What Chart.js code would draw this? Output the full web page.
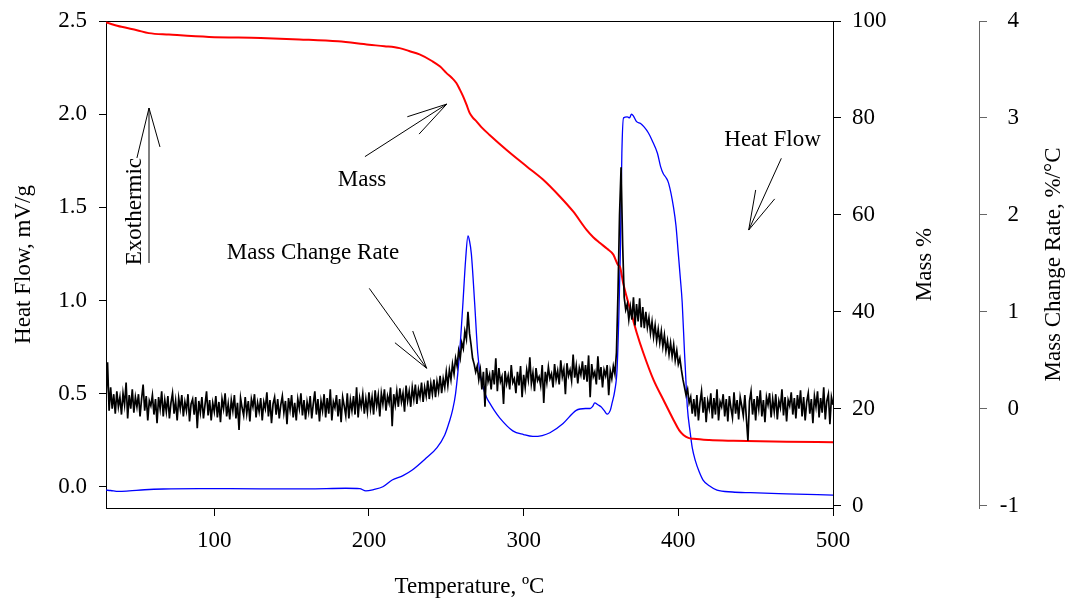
<!DOCTYPE html>
<html>
<head>
<meta charset="utf-8">
<script src="https://cdn.jsdelivr.net/npm/chart.js@4.4.1/dist/chart.umd.min.js"></script>
<style>
  html, body { margin: 0; padding: 0; background: #fff; }
  #wrap { width: 1068px; height: 601px; }
</style>
</head>
<body>
<div id="wrap"><canvas id="tgaChart" width="1068" height="601"></canvas></div>
<script>
// ===================================
// DATA
// ===================================

// Heat flow (blue, left axis, mV/g)
const hfTemps = [30, 33, 38, 45, 55, 67, 90, 130, 160, 185, 194, 198, 203, 209, 215, 222, 228, 237, 244, 249,
  252, 254, 256, 258.6, 260.6, 262.5, 264, 265, 266.2, 268.3, 270.3, 272, 273.6, 276, 278, 281, 284.5, 293, 300, 306,
  312, 317, 325.5, 334, 340, 343, 344.5, 346, 348, 350, 352, 354, 356, 357.2, 359, 360.4, 361.5, 362.5, 363.5, 364.6,
  367, 368.5, 369.7, 371, 373, 375.6, 378, 380.6, 383, 386.5, 388.5, 390.3, 392, 393.7, 396.9, 398.5, 400, 401.3, 402.5, 404,
  404.5, 405.8, 407.7, 409, 411, 413.5, 416, 420, 425, 435, 446.6, 470, 500];
const hfValues = [-0.018, -0.02, -0.025, -0.022, -0.016, -0.012, -0.010, -0.011, -0.011, -0.008, -0.010, -0.022, -0.015, 0.0, 0.036, 0.06, 0.09, 0.154, 0.21, 0.278,
  0.35, 0.41, 0.50, 0.72, 0.965, 1.22, 1.346, 1.32, 1.25, 0.99, 0.72, 0.60, 0.54, 0.48, 0.45, 0.41, 0.37, 0.30, 0.28, 0.27,
  0.275, 0.29, 0.34, 0.41, 0.42, 0.42, 0.43, 0.45, 0.44, 0.43, 0.41, 0.39, 0.41, 0.45, 0.52, 0.63, 0.90, 1.25, 1.79, 1.98,
  1.985, 1.98, 2.0, 1.99, 1.96, 1.95, 1.93, 1.90, 1.86, 1.79, 1.72, 1.68, 1.66, 1.63, 1.50, 1.40, 1.25, 1.12, 0.99, 0.72,
  0.64, 0.43, 0.29, 0.21, 0.14, 0.08, 0.036, 0.005, -0.018, -0.028, -0.032, -0.038, -0.045];

// Mass (red, first right axis, %)
const massTemps = [30, 40, 50, 57.7, 70.7, 96.6, 130, 155, 180, 200, 210, 219.8, 226, 232.7, 241, 246, 250, 253.5, 256.5, 258.7,
  260.8, 263, 265, 267, 269.5, 273, 278, 289, 302, 312.5, 323.4, 332, 340.7, 345, 349.4, 354, 358, 361, 362.3, 364.3,
  366.5, 369, 373.1, 377.4, 383.9, 390.4, 396.9, 400.5, 403.3, 406.5, 409.9, 420, 435.7, 470, 500];
const massValues = [99.7, 98.8, 98.1, 97.5, 97.2, 96.7, 96.5, 96.2, 95.8, 95.1, 94.8, 94.4, 93.8, 93.1, 91.7, 90.6, 89.3, 88.3, 87.2, 85.9,
  84.5, 82.8, 81.1, 80.1, 79.3, 78.0, 76.5, 73.4, 70.0, 67.3, 63.8, 60.7, 56.9, 55.4, 54.2, 53.0, 51.8, 49.7, 49.3, 46.0,
  43.2, 40.4, 35.7, 31.5, 26.0, 21.8, 17.7, 15.6, 14.6, 14.0, 13.8, 13.55, 13.4, 13.2, 13.1];

// Mass change rate (black, outer right axis, %/°C), one reading per °C from 30 °C
const rateStart = 30;
const rateValues = [
  0.10, 0.48, -0.02, 0.22, 0.00, 0.15, -0.05, 0.18, 0.02, 0.12,
  -0.06, 0.16, 0.04, 0.27, -0.10, 0.14, 0.00, 0.20, -0.04, 0.12,
  0.02, 0.15, -0.08, 0.10, 0.25, -0.02, 0.13, -0.12, 0.08, 0.03,
  0.14, -0.06, 0.10, -0.15, 0.12, 0.00, 0.18, -0.08, 0.09, -0.03,
  0.13, -0.10, 0.06, 0.16, -0.05, 0.08, -0.12, 0.11, 0.00, 0.14,
  -0.08, 0.07, -0.02, 0.15, -0.13, 0.05, 0.10, -0.06, 0.12, -0.20,
  0.08, -0.04, 0.12, -0.10, 0.04, 0.18, -0.07, 0.09, -0.12, 0.06,
  -0.03, 0.13, -0.09, 0.07, -0.14, 0.10, 0.00, 0.16, -0.08, 0.05,
  -0.11, 0.09, -0.02, 0.14, -0.10, 0.06, -0.22, 0.11, 0.01, -0.07,
  0.12, -0.05, 0.08, -0.13, 0.10, 0.02, 0.15, -0.09, 0.06, -0.03,
  0.11, -0.12, 0.07, 0.00, 0.17, -0.08, 0.09, -0.15, 0.05, 0.12,
  -0.06, 0.10, -0.10, 0.04, 0.13, -0.04, 0.08, -0.16, 0.11, -0.01,
  0.14, -0.09, 0.06, -0.12, 0.10, 0.00, 0.16, -0.07, 0.09, -0.11,
  0.07, -0.03, 0.13, -0.10, 0.05, 0.18, -0.06, 0.10, -0.13, 0.08,
  -0.02, 0.15, -0.09, 0.11, -0.05, 0.20, -0.12, 0.07, 0.01, 0.14,
  -0.08, 0.10, -0.14, 0.12, 0.03, -0.07, 0.16, -0.10, 0.09, -0.02,
  0.13, -0.06, 0.22, -0.09, 0.11, 0.02, 0.15, -0.05, 0.10, -0.03,
  0.17, 0.00, 0.12, -0.06, 0.19, 0.03, 0.14, -0.08, 0.16, 0.05,
  0.20, -0.02, 0.13, 0.06, 0.22, -0.18, 0.15, 0.04, 0.18, 0.02,
  0.21, 0.07, 0.16, -0.03, 0.24, 0.08, 0.18, 0.02, 0.22, 0.10,
  0.25, 0.05, 0.20, 0.12, 0.27, 0.07, 0.22, 0.13, 0.29, 0.10,
  0.26, 0.15, 0.30, 0.12, 0.28, 0.18, 0.34, 0.16, 0.31, 0.22,
  0.38, 0.24, 0.40, 0.30, 0.46, 0.36, 0.52, 0.44, 0.60, 0.52,
  0.68, 0.62, 0.80, 0.72, 1.00, 0.78, 0.66, 0.52, 0.46, 0.38,
  0.44, 0.30, 0.40, 0.20, 0.38, 0.02, 0.42, 0.28, 0.35, 0.20,
  0.40, 0.25, 0.52, 0.18, 0.42, 0.28, 0.33, 0.05, 0.39, 0.26,
  0.34, 0.20, 0.45, 0.27, 0.31, 0.16, 0.38, 0.24, 0.44, 0.12,
  0.35, 0.22, 0.40, 0.30, 0.53, 0.26, 0.37, 0.18, 0.42, 0.29,
  0.33, 0.24, 0.45, 0.06, 0.38, 0.27, 0.43, 0.31, 0.36, 0.22,
  0.46, 0.30, 0.39, 0.25, 0.50, 0.33, 0.41, 0.15, 0.47, 0.34,
  0.40, 0.29, 0.56, 0.32, 0.44, 0.26, 0.42, 0.35, 0.49, 0.30,
  0.45, 0.28, 0.55, 0.12, 0.46, 0.33, 0.38, 0.25, 0.54, 0.30,
  0.43, 0.22, 0.40, 0.34, 0.45, 0.14, 0.39, 0.31, 0.44, 0.36,
  0.58, 1.20, 2.00, 2.49, 1.70, 1.15, 1.02, 1.08, 0.92, 1.05,
  0.92, 1.15, 0.86, 1.08, 0.90, 1.14, 0.84, 1.05, 0.83, 1.00,
  0.84, 0.94, 0.78, 0.90, 0.74, 0.86, 0.70, 0.82, 0.68, 0.80,
  0.64, 0.76, 0.60, 0.70, 0.56, 0.68, 0.54, 0.66, 0.50, 0.60,
  0.46, 0.52, 0.40, 0.30, 0.22, 0.14, 0.20, 0.06, 0.12, -0.05,
  0.10, -0.08, 0.14, -0.12, 0.06, 0.18, -0.04, 0.12, -0.14, 0.08,
  0.00, 0.16, -0.10, 0.11, -0.06, 0.20, -0.12, 0.07, 0.02, 0.15,
  -0.08, 0.10, -0.13, 0.13, 0.01, -0.09, 0.17, -0.05, 0.09, -0.11,
  0.12, 0.03, -0.07, 0.14, -0.10, -0.33, 0.08, 0.18, -0.06, 0.10,
  -0.12, 0.13, 0.00, 0.19, -0.08, 0.09, -0.14, 0.12, 0.04, 0.16,
  -0.09, 0.10, -0.03, 0.15, -0.11, 0.08, 0.01, 0.20, -0.07, 0.12,
  -0.13, 0.09, 0.03, 0.17, -0.06, 0.11, -0.10, 0.14, 0.00, 0.19,
  -0.08, 0.12, -0.12, 0.07, 0.16, -0.05, 0.10, -0.15, 0.13, 0.02,
  0.18, -0.09, 0.11, -0.04, 0.22, -0.11, 0.08, 0.15, -0.16, 0.12,
  0.04
];

// Tick labels
const tempTicks = [100, 200, 300, 400, 500];
const hfTicks = [0, 0.5, 1, 1.5, 2, 2.5];
const massTicks = [0, 20, 40, 60, 80, 100];
const rateTicks = [-1, 0, 1, 2, 3, 4];

// Callout texts and arrows, placed in (temperature, heat flow) units
const notes = [
  { text: 'Exothermic', t: 48.7, hf: 1.477, vertical: true },
  { text: 'Mass', t: 195.5, hf: 1.614 },
  { text: 'Heat Flow', t: 460.9, hf: 1.829 },
  { text: 'Mass Change Rate', t: 163.8, hf: 1.221 }
];
const arrows = [
  { from: [57.8, 1.201], to: [57.8, 2.033], barbs: [[50.0, 1.765], [64.9, 1.824]] },
  { from: [197.4, 1.772], to: [250.3, 2.054], barbs: [[224.8, 1.986], [232.4, 1.893]] },
  { from: [466.6, 1.763], to: [445.5, 1.378], barbs: [[450.0, 1.593], [462.3, 1.545]] },
  { from: [200.2, 1.065], to: [237.3, 0.636], barbs: [[216.8, 0.773], [228.3, 0.836]] }
];

// ===================================
// CHART
// ===================================
const FONT = "'Liberation Serif', 'Times New Roman', serif";
const FONT_SIZE = 23;
const tickFont = { family: FONT, size: FONT_SIZE };

const rateTemps = rateValues.map((_, i) => rateStart + i);
const toPoints = (xs, ys) => xs.map((x, i) => ({ x: x, y: ys[i] }));

// keep the label overhang from pushing the plot box around
const fixWidth = w => s => {
  s.width = w;
  s.paddingTop = 0;
  s.paddingBottom = 0;
};

// right-hand titles read bottom-to-top, plus the arrows and callouts
const overlayPlugin = {
  id: 'overlay',
  afterDraw(chart) {
    const { ctx, chartArea, scales } = chart;
    const midY = (chartArea.top + chartArea.bottom) / 2;
    const px = t => scales.x.getPixelForValue(t);
    const py = v => scales.y.getPixelForValue(v);

    ctx.save();
    ctx.fillStyle = '#000';
    ctx.strokeStyle = '#000';
    ctx.font = FONT_SIZE + 'px ' + FONT;
    ctx.textAlign = 'center';
    ctx.textBaseline = 'middle';

    const sideTitles = [
      [scales.yMass.right - 54, 'Mass %'],
      [scales.yRate.right + 35, 'Mass Change Rate, %/°C']
    ];
    sideTitles.forEach(([x, text]) => {
      ctx.save();
      ctx.translate(x, midY);
      ctx.rotate(-Math.PI / 2);
      ctx.fillText(text, 0, 0);
      ctx.restore();
    });

    notes.forEach(n => {
      if (n.vertical) {
        ctx.save();
        ctx.translate(px(n.t), py(n.hf));
        ctx.rotate(-Math.PI / 2);
        ctx.textBaseline = 'middle';
        ctx.fillText(n.text, 0, 0);
        ctx.restore();
      } else {
        ctx.textBaseline = 'alphabetic';
        ctx.fillText(n.text, px(n.t), py(n.hf));
      }
    });

    ctx.lineWidth = 1;
    arrows.forEach(a => {
      const tip = [px(a.to[0]), py(a.to[1])];
      ctx.beginPath();
      ctx.moveTo(px(a.from[0]), py(a.from[1]));
      ctx.lineTo(tip[0], tip[1]);
      a.barbs.forEach(b => {
        ctx.moveTo(px(b[0]), py(b[1]));
        ctx.lineTo(tip[0], tip[1]);
      });
      ctx.stroke();
    });
    ctx.restore();
  }
};

const ctx = document.getElementById('tgaChart');
const tgaChart = new Chart(ctx, {
  type: 'line',
  data: {
    datasets: [
      {
        label: 'Mass Change Rate',
        data: toPoints(rateTemps, rateValues),
        yAxisID: 'yRate',
        borderColor: '#000000',
        borderWidth: 1.7,
        tension: 0
      },
      {
        label: 'Mass',
        data: toPoints(massTemps, massValues),
        yAxisID: 'yMass',
        borderColor: '#ff0000',
        borderWidth: 2,
        cubicInterpolationMode: 'monotone'
      },
      {
        label: 'Heat Flow',
        data: toPoints(hfTemps, hfValues),
        yAxisID: 'y',
        borderColor: '#0000ff',
        borderWidth: 1.3,
        cubicInterpolationMode: 'monotone'
      }
    ]
  },
  options: {
    responsive: false,
    animation: false,
    devicePixelRatio: 1,
    layout: { padding: { top: 21, right: 49, bottom: 0, left: 0 } },
    elements: { point: { radius: 0, hoverRadius: 0 } },
    plugins: {
      legend: { display: false },
      tooltip: { enabled: false }
    },
    scales: {
      x: {
        type: 'linear',
        position: 'bottom',
        min: 30,
        max: 500,
        afterBuildTicks: s => { s.ticks = tempTicks.map(v => ({ value: v })); },
        afterFit: s => { s.height = 93; s.paddingLeft = 0; s.paddingRight = 0; },
        grid: { drawOnChartArea: false, color: '#000', tickLength: 8 },
        border: { color: '#000', width: 1 },
        ticks: { color: '#000', font: tickFont, padding: 11, maxRotation: 0, callback: v => String(v) },
        title: {
          display: true,
          text: 'Temperature, ºC',
          color: '#000',
          font: tickFont,
          padding: { top: 0, bottom: 0 }
        }
      },
      xTop: {
        type: 'linear',
        position: 'top',
        min: 30,
        max: 500,
        afterFit: s => { s.height = 0; s.paddingLeft = 0; s.paddingRight = 0; },
        grid: { drawOnChartArea: false, drawTicks: false },
        border: { display: true, color: '#000', width: 1 },
        ticks: { display: false }
      },
      y: {
        type: 'linear',
        position: 'left',
        min: -0.114,
        max: 2.5,
        afterBuildTicks: s => { s.ticks = hfTicks.map(v => ({ value: v })); },
        afterFit: fixWidth(106),
        grid: { drawOnChartArea: false, color: '#000', tickLength: 7 },
        border: { color: '#000', width: 1 },
        ticks: { color: '#000', font: tickFont, padding: 12, callback: v => v.toFixed(1) },
        title: {
          display: true,
          text: 'Heat Flow, mV/g',
          color: '#000',
          font: tickFont,
          padding: { top: 10, bottom: 0 }
        }
      },
      yMass: {
        type: 'linear',
        position: 'right',
        weight: 1,
        min: -0.47,
        max: 100,
        afterBuildTicks: s => { s.ticks = massTicks.map(v => ({ value: v })); },
        afterFit: fixWidth(146),
        grid: { drawOnChartArea: false, color: '#000', tickLength: 8 },
        border: { color: '#000', width: 1 },
        ticks: { color: '#000', font: tickFont, padding: 11, callback: v => String(v) }
      },
      yRate: {
        type: 'linear',
        position: 'right',
        weight: 2,
        min: -1.024,
        max: 4,
        afterBuildTicks: s => { s.ticks = rateTicks.map(v => ({ value: v })); },
        afterFit: fixWidth(40),
        grid: { drawOnChartArea: false, color: '#666', tickLength: 8 },
        border: { color: '#666', width: 1 },
        ticks: { color: '#000', font: tickFont, padding: 12, crossAlign: 'far', callback: v => String(v) }
      }
    }
  },
  plugins: [overlayPlugin]
});
</script>
</body>
</html>
